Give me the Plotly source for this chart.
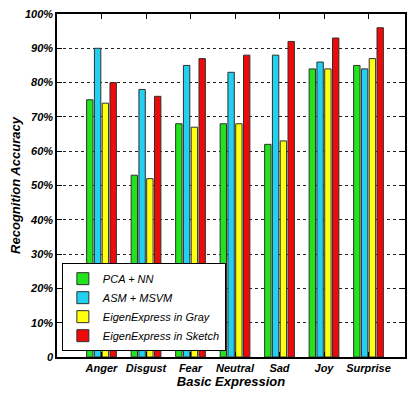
import plotly.graph_objects as go

categories = ["Anger", "Disgust", "Fear", "Neutral", "Sad", "Joy", "Surprise"]
pca_nn = [75, 53, 68, 68, 62, 84, 85]
asm_msvm = [90, 78, 85, 83, 88, 86, 84]
eigen_gray = [74, 52, 67, 68, 63, 84, 87]
eigen_sketch = [80, 76, 87, 88, 92, 93, 96]
series_names = ["PCA + NN", "ASM + MSVM", "EigenExpress in Gray", "EigenExpress in Sketch"]
y_ticks = [0, 10, 20, 30, 40, 50, 60, 70, 80, 90, 100]
y_tick_labels = ["0", "10%", "20%", "30%", "40%", "50%", "60%", "70%", "80%", "90%", "100%"]

colors = ["#22e41c", "#22d0f0", "#ffff10", "#ee0a0a"]
tickfont = dict(family="Liberation Sans Narrow, Arial Narrow, Liberation Sans, Arial", size=11,
                color="black", weight="bold", style="italic")

fig = go.Figure()
for name, vals, c in zip(series_names, [pca_nn, asm_msvm, eigen_gray, eigen_sketch], colors):
    fig.add_trace(go.Bar(x=categories, y=vals, name=name,
                         marker=dict(color=c, line=dict(color="#303030", width=1))))

fig.update_layout(
    width=399, height=383,
    margin=dict(l=47, r=0, t=4, b=34),
    paper_bgcolor="white", plot_bgcolor="white",
    barmode="group", bargap=0.3, bargroupgap=0.18,
    legend=dict(x=0.014, y=0.017, xanchor="left", yanchor="bottom",
                bgcolor="white", bordercolor="black", borderwidth=1,
                font=dict(family="Liberation Sans, Arial", size=11, color="black", style="italic"),
                tracegroupgap=0, itemwidth=30),
    showlegend=True,
)
fig.update_xaxes(
    type="category", range=[-1, 6.82], showline=True, linecolor="black", linewidth=1.5,
    mirror="ticks", ticks="inside", ticklen=5, tickcolor="black",
    showgrid=False, tickfont=tickfont,
    title=dict(text="Basic Expression", standoff=1,
               font=dict(family="Liberation Sans, Arial", size=13, color="black",
                         weight="bold", style="italic")),
)
fig.update_yaxes(
    range=[0, 100], tickvals=y_ticks, ticktext=y_tick_labels,
    showline=True, linecolor="black", linewidth=1.5, mirror="ticks",
    ticks="inside", ticklen=5, tickcolor="black", ticklabeloverflow="allow",
    showgrid=True, gridcolor="#222222", griddash="3px,3px", gridwidth=1,
    zeroline=False, tickfont=tickfont,
    title=dict(text="Recognition Accuracy", standoff=8,
               font=dict(family="Liberation Sans, Arial", size=13, color="black",
                         weight="bold", style="italic")),
)

fig.write_html("out.html")
